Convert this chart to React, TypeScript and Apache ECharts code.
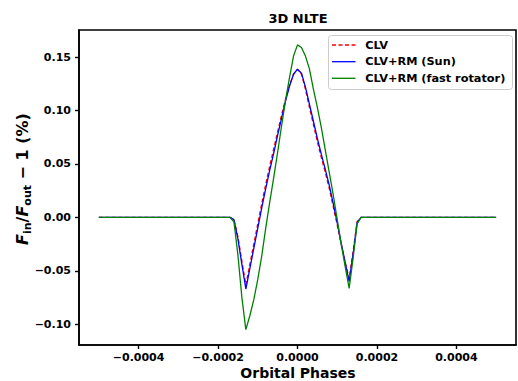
import React, { useEffect, useRef } from 'react';
import * as echarts from 'echarts';

const phases = [
  -0.0005, -0.0004, -0.0003, -0.0002,
  -0.00017, -0.00016, -0.00015, -0.00014, -0.00013, -0.00012, -0.00011, -0.0001,
  -0.00009, -0.00008, -0.00007, -0.00006, -0.00005, -0.00004, -0.00003, -0.00002, -0.00001,
  0,
  0.00001, 0.00002, 0.00003, 0.00004, 0.00005, 0.00006, 0.00007, 0.00008, 0.00009,
  0.0001, 0.00011, 0.00012, 0.00013, 0.00014, 0.00015, 0.00016, 0.00017,
  0.0002, 0.0003, 0.0004, 0.0005,
];

const clv = [
  0, 0, 0, 0,
  0, -0.002, -0.018, -0.041, -0.063, -0.044, -0.025, -0.006,
  0.013, 0.031, 0.048, 0.064, 0.08, 0.096, 0.111, 0.124, 0.134,
  0.1385,
  0.134, 0.12, 0.103, 0.087, 0.071, 0.056, 0.042, 0.027, 0.01,
  -0.007, -0.025, -0.042, -0.057, -0.032, -0.004, 0, 0,
  0, 0, 0, 0,
];

const rmSun = [
  0, 0, 0, 0,
  0, -0.002, -0.02, -0.044, -0.067, -0.048, -0.029, -0.01,
  0.009, 0.027, 0.044, 0.06, 0.077, 0.093, 0.109, 0.123, 0.134,
  0.1387,
  0.135, 0.122, 0.106, 0.09, 0.074, 0.059, 0.045, 0.03, 0.013,
  -0.005, -0.024, -0.042, -0.06, -0.034, -0.005, 0, 0,
  0, 0, 0, 0,
];

const rmFast = [
  0, 0, 0, 0,
  0, -0.004, -0.035, -0.075, -0.105, -0.092, -0.077, -0.058,
  -0.036, -0.01, 0.014, 0.037, 0.061, 0.086, 0.11, 0.131, 0.151,
  0.1615,
  0.159, 0.151, 0.139, 0.12, 0.103, 0.084, 0.063, 0.042, 0.021,
  -0.002, -0.025, -0.046, -0.0665, -0.038, -0.006, 0, 0,
  0, 0, 0, 0,
];

const seriesNames = ['CLV', 'CLV+RM (Sun)', 'CLV+RM (fast rotator)'];
const xTicks = [-0.0004, -0.0002, 0, 0.0002, 0.0004];
const yTicks = [-0.1, -0.05, 0, 0.05, 0.1, 0.15];

const FONT = 'DejaVu Sans';
const COLORS = ['#ff0000', '#0000ff', '#008000'];
const DASH = [4, 2.5];

const fmt = (v: number, d: number) => {
  const r = Math.abs(v) < 1e-12 ? 0 : v;
  return (r < 0 ? '\u2212' : '') + Math.abs(r).toFixed(d);
};

export default function App() {
  const ref = useRef<HTMLDivElement>(null);
  useEffect(() => {
    if (!ref.current) return;
    const chart = echarts.init(ref.current, undefined, { renderer: 'svg' });
    const tickLabel = { color: '#000', fontFamily: FONT, fontWeight: 'bold' as const, fontSize: 11 };
    const values = [clv, rmSun, rmFast];

    const legendX = 328, legendY = 35, legendW = 184, legendH = 54;
    const rowY = [45, 61.7, 78.3];
    const legendEls: any[] = [
      {
        type: 'rect', z: 100,
        shape: { x: legendX + 0.5, y: legendY + 0.5, width: legendW, height: legendH, r: 3 },
        style: { fill: 'rgba(255,255,255,0.8)', stroke: '#cccccc', lineWidth: 1 },
      },
    ];
    seriesNames.forEach((name, i) => {
      legendEls.push({
        type: 'line', z: 101,
        shape: { x1: 332, y1: rowY[i], x2: 355.5, y2: rowY[i] },
        style: { stroke: COLORS[i], lineWidth: 1.3, lineDash: i === 0 ? DASH : null },
      });
      legendEls.push({
        type: 'text', z: 101, x: 365.3, y: rowY[i],
        style: { text: name, fill: '#000', font: `bold 11.3px "${FONT}"`, align: 'left', verticalAlign: 'middle' },
      });
    });

    chart.setOption({
      animation: false,
      backgroundColor: '#fff',
      grid: { left: 79, right: 2, top: 30, bottom: 36, show: true, borderColor: '#000', borderWidth: 1.6, backgroundColor: 'transparent' },
      xAxis: {
        type: 'value',
        min: -0.00055,
        max: 0.00055,
        axisLine: { show: true, onZero: false, lineStyle: { color: '#000', width: 1.6 } },
        axisTick: { show: true, customValues: xTicks, length: 4, lineStyle: { color: '#000', width: 1.4 } },
        axisLabel: { ...tickLabel, customValues: xTicks, margin: 7, formatter: (v: number) => fmt(v, 4) },
        splitLine: { show: false },
      },
      yAxis: {
        type: 'value',
        min: -0.1194,
        max: 0.1754,
        axisLine: { show: true, onZero: false, lineStyle: { color: '#000', width: 1.6 } },
        axisTick: { show: true, customValues: yTicks, length: 4, lineStyle: { color: '#000', width: 1.4 } },
        axisLabel: { ...tickLabel, customValues: yTicks, margin: 8, formatter: (v: number) => fmt(v, 2) },
        splitLine: { show: false },
      },
      series: seriesNames.map((name, i) => ({
        name, type: 'line', showSymbol: false, symbol: 'none',
        data: phases.map((x, j) => [x, values[i][j]]),
        lineStyle: { color: COLORS[i], width: 1.3, type: i === 0 ? DASH : 'solid' },
        itemStyle: { color: COLORS[i] },
      })),
      graphic: [
        {
          type: 'text', x: 298, y: 18,
          style: { text: '3D NLTE', fill: '#000', font: `bold 13px "${FONT}"`, align: 'center', verticalAlign: 'middle' },
        },
        {
          type: 'text', x: 298, y: 373,
          style: { text: 'Orbital Phases', fill: '#000', font: `bold 14px "${FONT}"`, align: 'center', verticalAlign: 'middle' },
        },
        {
          type: 'text', x: 22, y: 179, rotation: Math.PI / 2,
          style: {
            text: '{f|F}{s|in}{n|/}{f|F}{s|out}{n| \u2212 1 (%)}',
            align: 'center', verticalAlign: 'middle', fill: '#000',
            rich: {
              f: { fontFamily: FONT, fontWeight: 'bold', fontStyle: 'italic', fontSize: 16, lineHeight: 21, verticalAlign: 'middle', fill: '#000' },
              s: { fontFamily: FONT, fontWeight: 'bold', fontSize: 11, lineHeight: 11, verticalAlign: 'bottom', fill: '#000' },
              n: { fontFamily: FONT, fontWeight: 'bold', fontSize: 16, lineHeight: 21, verticalAlign: 'middle', fill: '#000' },
            },
          },
        },
        ...legendEls,
      ],
    });
    return () => chart.dispose();
  }, []);
  return <div ref={ref} style={{ position: 'fixed', left: 0, top: 0, width: 518, height: 381 }} />;
}
